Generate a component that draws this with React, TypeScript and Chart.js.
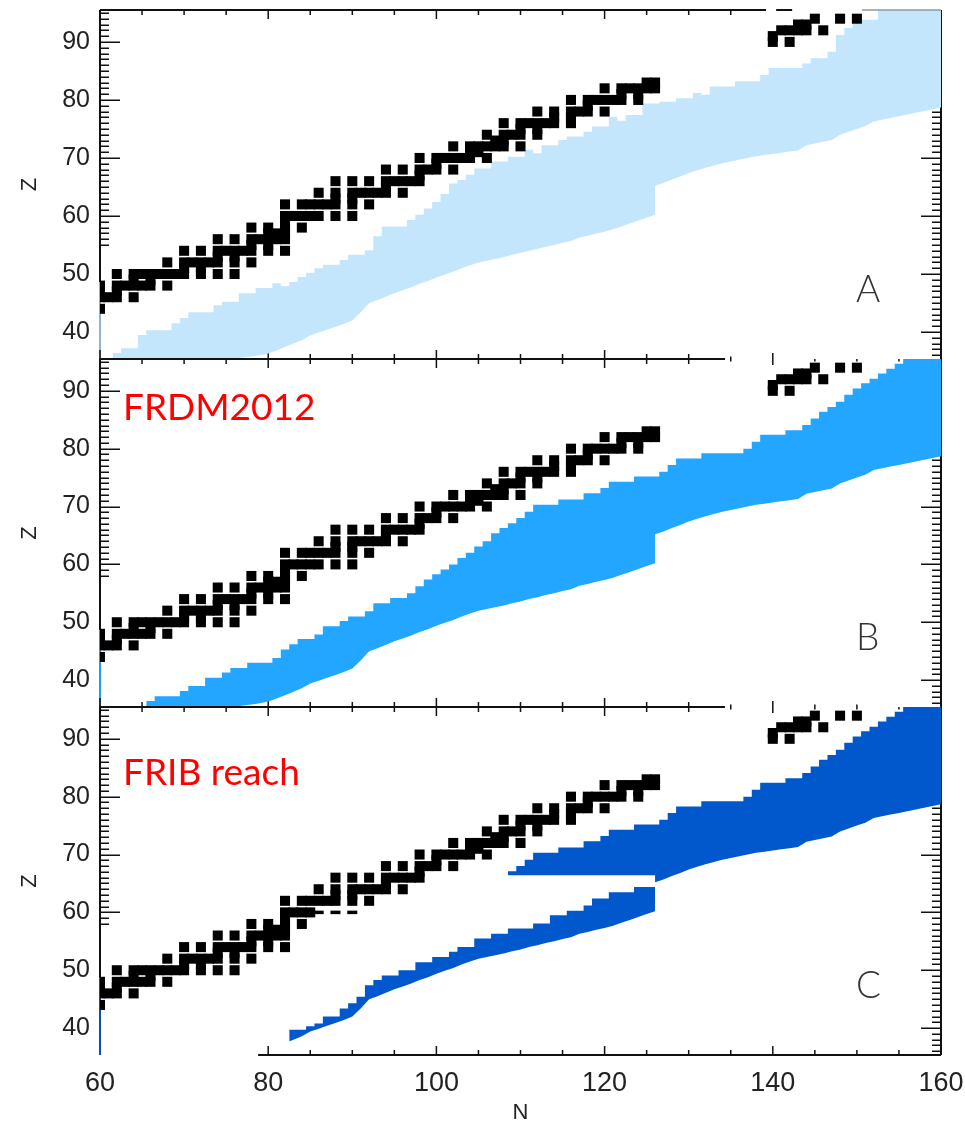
import React, { useEffect, useRef } from "react";
import { Chart, registerables } from "chart.js";

Chart.register(...registerables);

// ---------------- data ----------------
const N_MIN = 60;
const N_MAX = 160;
const Z_MIN = 35.35;
const Z_MAX = 95.5;
const N_TICK_LABELS = [60, 80, 100, 120, 140, 160];
const Z_TICK_LABELS = [40, 50, 60, 70, 80, 90];

// stable / long-lived nuclei: proton number and its neutron numbers
const STABLE_Z = [44, 46, 47, 48, 49, 50, 51, 52, 53, 54, 55, 56, 57, 58, 59, 60, 62, 63, 64, 65, 66, 67, 68, 69, 70, 71, 72, 73, 74, 75, 76, 77, 78, 79, 80, 81, 82, 83, 90, 91, 92, 93, 94];
const STABLE_N = [
  [60],
  [60, 61, 62, 64],
  [60, 62],
  [60, 62, 63, 64, 65, 66, 68],
  [64, 66],
  [62, 64, 65, 66, 67, 68, 69, 70, 72, 74, 76],
  [70, 72],
  [68, 70, 71, 72, 73, 74, 76, 78],
  [74, 76],
  [70, 72, 74, 75, 76, 77, 78, 80, 82],
  [78, 80],
  [74, 76, 78, 79, 80, 81, 82],
  [80, 81, 82],
  [78, 80, 82, 84],
  [82],
  [82, 83, 84, 85, 86, 88, 90],
  [82, 84, 85, 86, 87, 88, 90, 92],
  [88, 90],
  [86, 88, 90, 91, 92, 93, 94, 96],
  [94],
  [88, 90, 92, 94, 95, 96, 97, 98],
  [98],
  [94, 96, 98, 99, 100, 102],
  [100],
  [98, 100, 101, 102, 103, 104, 106],
  [104, 105],
  [102, 104, 105, 106, 107, 108, 110],
  [107, 108],
  [106, 108, 109, 110, 112],
  [110, 112],
  [108, 110, 111, 112, 113, 114, 116],
  [114, 116],
  [112, 114, 116, 117, 118, 120],
  [118],
  [116, 118, 119, 120, 121, 122, 124],
  [122, 124],
  [120, 122, 123, 124, 125, 126],
  [125, 126],
  [140, 142],
  [140],
  [141, 142, 143, 144, 146],
  [143, 144],
  [145, 148, 150],
];

// common lower edge of the bands, N = 60..160 (jump at N = 126)
const LOWER_START_N = 60;
const LOWER_Z = [
  35, 35, 35, 35, 35, 35, 35, 35, 35, 35,
  35, 35, 35, 35, 35, 35, 35.4, 35.6, 35.8, 36.0,
  36.3, 36.8, 37.4, 38.0, 38.6, 39.4, 39.9, 40.4, 40.9, 41.4,
  42.0, 43.4, 45.0, 45.5, 46.1, 46.7, 47.2, 47.7, 48.3, 48.8,
  49.4, 49.9, 50.4, 51.0, 51.5, 52.0, 52.3, 52.6, 52.9, 53.3,
  53.6, 54.0, 54.3, 54.7, 55.0, 55.4, 55.7, 56.3, 56.6, 57.0,
  57.3, 57.7, 58.2, 58.7, 59.2, 59.7, 60.2, 65.7, 66.3, 66.8,
  67.4, 67.9, 68.3, 68.7, 69.1, 69.4, 69.7, 70.0, 70.3, 70.5,
  70.7, 70.9, 71.1, 71.3, 72.2, 72.5, 72.8, 73.1, 74.0, 74.5,
  75.0, 75.5, 76.3, 76.6, 76.9, 77.2, 77.5, 77.8, 78.1, 78.4,
  78.7,
];
const LOWER_JUMP_N = 126;
const LOWER_JUMP_Z = 65.2;

// panel A upper edge, N = 62..160
const UPPER_A_START = 62;
const UPPER_A = [
  36.4, 37.2, 37.2, 39.5, 40.3, 40.3, 40.3, 41.5, 42.4, 43.4,
  43.4, 43.4, 44.6, 45.2, 45.2, 46.7, 46.7, 47.6, 47.6, 48.4,
  47.9, 48.6, 49.5, 50.2, 51.0, 51.6, 51.6, 52.4, 53.3, 53.3,
  54.1, 56.5, 58.2, 58.2, 58.2, 59.3, 60.2, 61.3, 62.4, 63.8,
  65.6, 66.2, 67.1, 68.2, 68.2, 69.4, 69.4, 70.2, 70.2, 71.4,
  70.8, 72.2, 72.2, 73.1, 73.7, 73.7, 74.5, 75.4, 75.4, 77.1,
  76.4, 77.4, 77.4, 79.4, 79.4, 79.7, 79.7, 80.3, 80.3, 81.2,
  80.9, 82.3, 82.3, 82.3, 83.2, 83.2, 83.2, 84.3, 85.5, 85.5,
  85.5, 85.5, 86.3, 87.2, 87.2, 88.3, 91.2, 92.4, 93.2, 93.8,
  93.8, 96, 96, 96, 96, 96, 96, 96, 96,
];

// panel B (FRDM2012) upper edge, N = 66..160
const UPPER_B_START = 66;
const UPPER_B = [
  36.4, 37.2, 37.2, 37.2, 38.1, 39.0, 39.0, 40.4, 40.4, 41.3,
  42.1, 42.1, 43.0, 43.0, 43.0, 43.8, 45.3, 46.2, 47.1, 47.1,
  47.9, 49.3, 49.3, 50.2, 51.0, 51.0, 51.9, 53.3, 53.3, 54.2,
  54.2, 55.0, 56.2, 57.4, 58.3, 59.1, 60.0, 61.1, 62.0, 63.1,
  64.0, 65.4, 66.3, 67.1, 68.0, 69.1, 70.3, 70.3, 70.3, 71.2,
  71.2, 71.2, 72.3, 72.3, 73.2, 74.3, 74.3, 74.3, 75.2, 75.2,
  75.2, 76.0, 77.2, 78.3, 78.3, 78.3, 79.2, 79.2, 79.2, 79.2,
  79.2, 80.0, 81.2, 82.4, 82.4, 82.4, 83.2, 83.2, 84.1, 85.2,
  86.4, 87.2, 88.1, 89.3, 90.4, 91.3, 92.1, 93.0, 93.8, 94.7,
  96, 96, 96, 96, 96,
];

// panel C (FRIB reach): lower strip upper edge, N = 83..126
const C_STRIP_START = 83;
const C_STRIP_UPPER = [
  39.7, 39.7, 40.3, 40.8, 42.0, 42.0, 43.4, 44.3, 45.4, 47.4,
  48.3, 49.1, 49.1, 50.0, 50.0, 51.4, 51.4, 52.3, 52.3, 53.2,
  54.0, 54.0, 55.5, 55.5, 56.3, 56.3, 57.2, 57.2, 57.2, 58.1,
  58.1, 59.5, 59.5, 60.3, 60.3, 61.2, 62.4, 62.4, 63.5, 63.5,
  63.5, 64.4, 64.4, 64.4,
];
// panel C upper region starts at N = 109 (same upper edge as B), with a flat lower edge up to N = 126
const C_UPPER_START = 109;
const C_GAP_LOWER_Z = 66.4;
// panel C: Z = 60 nuclei drawn as thin dashes
const C_DASH_N = [86, 88, 90];
const C_DASH_Z = 60;

// ---------------- styling ----------------
const AXIS_COLOR = "#111";
const TEXT_COLOR = "#222";
const COLOR_A = "#c4e6fc";
const COLOR_B = "#22a6ff";
const COLOR_C = "#0058cc";
const TICK_FONT = '"Liberation Sans", Arial, sans-serif';

type Pt = { x: number; y: number };
type Seg = [number, number];

function stablePoints(exclude: Pt[] = []): Pt[] {
  const pts: Pt[] = [];
  STABLE_Z.forEach((z, i) => {
    STABLE_N[i].forEach((n) => {
      if (!exclude.some((e) => e.x === n && e.y === z)) pts.push({ x: n, y: z });
    });
  });
  return pts;
}

function stepPoints(startN: number, values: number[], padLeft = true, padRight = true): Pt[] {
  const pts: Pt[] = values.map((z, i) => ({ x: startN + i, y: z }));
  if (padLeft) pts.unshift({ x: startN - 0.5, y: values[0] });
  if (padRight) pts.push({ x: startN + values.length - 0.5, y: values[values.length - 1] });
  return pts;
}

function lowerPoints(fromN: number, toN: number, withJump: boolean): Pt[] {
  const pts: Pt[] = [];
  LOWER_Z.forEach((z, i) => {
    const n = LOWER_START_N + i;
    if (n < fromN || n > toN) return;
    pts.push({ x: n, y: z });
    if (withJump && n === LOWER_JUMP_N) pts.push({ x: n, y: LOWER_JUMP_Z });
  });
  return pts;
}

function squaresDataset(pts: Pt[]) {
  return {
    type: "scatter",
    data: pts,
    pointStyle: "rect",
    pointRadius: 7.1,
    pointHoverRadius: 7.1,
    pointBorderWidth: 0,
    pointBackgroundColor: "#000",
    backgroundColor: "#000",
    borderWidth: 0,
    showLine: false,
    clip: 0,
  };
}

function bandDatasets(color: string, upper: Pt[], lower: Pt[]) {
  return [
    {
      type: "line",
      data: upper,
      stepped: "middle",
      fill: "+1",
      backgroundColor: color,
      borderColor: "rgba(0,0,0,0)",
      borderWidth: 0,
      pointRadius: 0,
      pointHoverRadius: 0,
      clip: 0,
    },
    {
      type: "line",
      data: lower,
      fill: false,
      borderColor: "rgba(0,0,0,0)",
      borderWidth: 0,
      pointRadius: 0,
      pointHoverRadius: 0,
      clip: 0,
    },
  ];
}

type Label = { text: string; dx: number; dy: number; font: string; color: string };
type PanelCfg = {
  canvasTop: number;
  canvasHeight: number;
  padTop: number;
  padBottom: number;
  showX: boolean;
  leftColor: string;
  leftTickMin: number;
  leftColorBelow: number;
  top: { segs: Seg[]; stubs: number[] };
  bottom: { segs: Seg[]; stubs: number[] };
  overlay: Seg[];
  labels: Label[];
  datasets: any[];
};

const PANEL_LABEL_FONT = '300 37px Lato, "Liberation Sans", sans-serif';
const RED_FONT = '37px Lato, "Open Sans", sans-serif';

const cDashes: Pt[] = C_DASH_N.map((n) => ({ x: n, y: C_DASH_Z }));

const PANELS: PanelCfg[] = [
  {
    canvasTop: 0,
    canvasHeight: 365,
    padTop: 10,
    padBottom: 6,
    showX: false,
    leftColor: "#8fb4d0",
    leftTickMin: 55,
    leftColorBelow: 48.6,
    top: { segs: [[60, 139.2], [140.4, 142.3]], stubs: [] },
    bottom: { segs: [[60, 134.3]], stubs: [135, 140] },
    overlay: [[150.6, 160]],
    labels: [{ text: "A", dx: 756, dy: 292, font: PANEL_LABEL_FONT, color: "#333" }],
    datasets: [
      squaresDataset(stablePoints()),
      ...bandDatasets(COLOR_A, stepPoints(UPPER_A_START, UPPER_A), lowerPoints(60, 160, true)),
    ],
  },
  {
    canvasTop: 353,
    canvasHeight: 360,
    padTop: 6,
    padBottom: 6,
    showX: false,
    leftColor: "#1e9df0",
    leftTickMin: 58,
    leftColorBelow: 48.6,
    top: { segs: [[60, 134.3]], stubs: [135, 140, 145, 150, 155] },
    bottom: { segs: [[60, 134.3]], stubs: [135, 140, 145, 150] },
    overlay: [],
    labels: [
      { text: "FRDM2012", dx: 23, dy: 61, font: RED_FONT, color: "#ff0000" },
      { text: "B", dx: 756, dy: 291, font: PANEL_LABEL_FONT, color: "#333" },
    ],
    datasets: [
      squaresDataset(stablePoints()),
      ...bandDatasets(COLOR_B, stepPoints(UPPER_B_START, UPPER_B), lowerPoints(60, 160, true)),
    ],
  },
  {
    canvasTop: 701,
    canvasHeight: 426,
    padTop: 6,
    padBottom: 0,
    showX: true,
    leftColor: "#0a4fb8",
    leftTickMin: 58,
    leftColorBelow: 48.6,
    top: { segs: [[60, 134.3]], stubs: [135, 140, 145, 150, 155] },
    bottom: { segs: [[78.8, 160]], stubs: [] },
    overlay: [],
    labels: [
      { text: "FRIB reach", dx: 23, dy: 78, font: RED_FONT, color: "#ff0000" },
      { text: "C", dx: 756, dy: 291, font: PANEL_LABEL_FONT, color: "#333" },
    ],
    datasets: [
      squaresDataset(stablePoints(cDashes)),
      {
        type: "scatter",
        data: cDashes,
        pointStyle: "line",
        pointRadius: 5,
        pointHoverRadius: 5,
        pointBorderWidth: 3.5,
        pointBorderColor: "#000",
        borderColor: "#000",
        showLine: false,
        clip: 0,
      },
      ...bandDatasets(
        COLOR_C,
        stepPoints(C_STRIP_START, C_STRIP_UPPER, true, false),
        lowerPoints(82, 126, false)
      ),
      ...bandDatasets(
        COLOR_C,
        stepPoints(C_UPPER_START, UPPER_B.slice(C_UPPER_START - UPPER_B_START)),
        [
          { x: C_UPPER_START - 0.5, y: C_GAP_LOWER_Z },
          { x: LOWER_JUMP_N, y: C_GAP_LOWER_Z },
          { x: LOWER_JUMP_N, y: LOWER_JUMP_Z },
          ...lowerPoints(LOWER_JUMP_N + 1, 160, false),
        ]
      ),
    ],
  },
];

function inSegs(n: number, segs: Seg[]) {
  return segs.some(([a, b]) => n >= a - 1e-6 && n <= b + 1e-6);
}

function makePlugin(cfg: PanelCfg) {
  return {
    id: "panelFrame",
    beforeDatasetsDraw(chart: any) {
      const { ctx, chartArea: a, scales } = chart;
      const xs = scales.x;
      const ys = scales.y;
      const line = (x1: number, y1: number, x2: number, y2: number) => {
        ctx.beginPath();
        ctx.moveTo(x1, y1);
        ctx.lineTo(x2, y2);
        ctx.stroke();
      };
      ctx.save();
      ctx.lineCap = "butt";
      ctx.lineWidth = 2;
      ctx.strokeStyle = AXIS_COLOR;
      // left axis
      const yc = ys.getPixelForValue(cfg.leftColorBelow);
      line(a.left, a.top, a.left, yc);
      ctx.strokeStyle = cfg.leftColor;
      line(a.left, yc, a.left, a.bottom);
      ctx.strokeStyle = AXIS_COLOR;
      // right axis
      line(a.right, a.top, a.right, a.bottom);
      // top / bottom axis lines
      cfg.top.segs.forEach(([n1, n2]) => line(xs.getPixelForValue(n1), a.top, xs.getPixelForValue(n2), a.top));
      cfg.bottom.segs.forEach(([n1, n2]) =>
        line(xs.getPixelForValue(n1), a.bottom, xs.getPixelForValue(n2), a.bottom)
      );
      // Z ticks
      ctx.lineWidth = 1.5;
      for (let z = Math.ceil(Z_MIN); z <= Math.floor(Z_MAX); z++) {
        const py = Math.round(ys.getPixelForValue(z)) + 0.25;
        const len = z % 10 === 0 ? 20 : 9;
        line(a.right - len, py, a.right, py);
        if (z >= cfg.leftTickMin) line(a.left, py, a.left + len, py);
      }
      // N ticks
      for (let n = N_MIN; n <= N_MAX; n += 5) {
        const px = xs.getPixelForValue(n);
        const major = n % 20 === 0;
        const len = major ? 9 : 5;
        const stub = major ? 6 : 2.5;
        if (inSegs(n, cfg.top.segs)) line(px, a.top, px, a.top + len);
        else if (cfg.top.stubs.includes(n)) line(px, a.top, px, a.top + stub);
        if (inSegs(n, cfg.bottom.segs)) line(px, a.bottom, px, a.bottom - len);
        else if (cfg.bottom.stubs.includes(n)) line(px, a.bottom, px, a.bottom - stub);
      }
      ctx.restore();
    },
    afterDatasetsDraw(chart: any) {
      const { ctx, chartArea: a, scales } = chart;
      ctx.save();
      ctx.strokeStyle = "#8c9aa6";
      ctx.lineWidth = 1.5;
      cfg.overlay.forEach(([n1, n2]) => {
        ctx.beginPath();
        ctx.moveTo(scales.x.getPixelForValue(n1), a.top);
        ctx.lineTo(scales.x.getPixelForValue(n2), a.top);
        ctx.stroke();
      });
      ctx.restore();
    },
    afterDraw(chart: any) {
      const { ctx, chartArea: a } = chart;
      ctx.save();
      ctx.textBaseline = "alphabetic";
      ctx.textAlign = "left";
      cfg.labels.forEach((l) => {
        ctx.font = l.font;
        ctx.fillStyle = l.color;
        ctx.fillText(l.text, a.left + l.dx, a.top + l.dy);
      });
      ctx.restore();
    },
  };
}

function buildConfig(cfg: PanelCfg): any {
  return {
    type: "scatter",
    data: { datasets: cfg.datasets },
    options: {
      animation: false,
      responsive: false,
      maintainAspectRatio: false,
      events: [],
      layout: {
        autoPadding: false,
        padding: { left: 0, right: 24, top: cfg.padTop, bottom: cfg.padBottom },
      },
      plugins: {
        legend: { display: false },
        tooltip: { enabled: false },
      },
      scales: {
        x: {
          type: "linear",
          min: N_MIN,
          max: N_MAX,
          display: cfg.showX,
          afterBuildTicks: (s: any) => {
            s.ticks = N_TICK_LABELS.map((v) => ({ value: v }));
          },
          afterFit: (s: any) => {
            s.height = cfg.showX ? 72 : 0;
            s.paddingLeft = 0;
            s.paddingRight = 0;
          },
          grid: { display: false, drawTicks: false },
          border: { display: false },
          ticks: {
            autoSkip: false,
            maxRotation: 0,
            padding: 12,
            color: TEXT_COLOR,
            font: { family: TICK_FONT, size: 27 },
          },
          title: {
            display: true,
            text: "N",
            color: TEXT_COLOR,
            font: { family: TICK_FONT, size: 22 },
            padding: { top: 0, bottom: 1 },
          },
        },
        y: {
          type: "linear",
          min: Z_MIN,
          max: Z_MAX,
          afterBuildTicks: (s: any) => {
            s.ticks = Z_TICK_LABELS.map((v) => ({ value: v }));
          },
          afterFit: (s: any) => {
            s.width = 100;
            s.paddingTop = 0;
            s.paddingBottom = 0;
          },
          grid: { display: false, drawTicks: false },
          border: { display: false },
          ticks: {
            autoSkip: false,
            padding: 10,
            color: TEXT_COLOR,
            font: { family: TICK_FONT, size: 25 },
          },
          title: {
            display: true,
            text: "Z",
            color: TEXT_COLOR,
            font: { family: TICK_FONT, size: 22 },
            padding: { top: 17, bottom: 0 },
          },
        },
      },
    },
    plugins: [makePlugin(cfg)],
  };
}

function Panel({ cfg }: { cfg: PanelCfg }) {
  const ref = useRef<HTMLCanvasElement | null>(null);
  useEffect(() => {
    if (!ref.current) return;
    const chart = new Chart(ref.current, buildConfig(cfg));
    return () => chart.destroy();
  }, [cfg]);
  return (
    <canvas
      ref={ref}
      width={965}
      height={cfg.canvasHeight}
      style={{
        position: "absolute",
        left: 0,
        top: cfg.canvasTop,
        width: 965,
        height: cfg.canvasHeight,
      }}
    />
  );
}

export default function App() {
  return (
    <div
      style={{
        position: "absolute",
        left: 0,
        top: 0,
        width: 965,
        height: 1127,
        background: "#fff",
        overflow: "hidden",
      }}
    >
      {PANELS.map((p, i) => (
        <Panel key={i} cfg={p} />
      ))}
    </div>
  );
}
